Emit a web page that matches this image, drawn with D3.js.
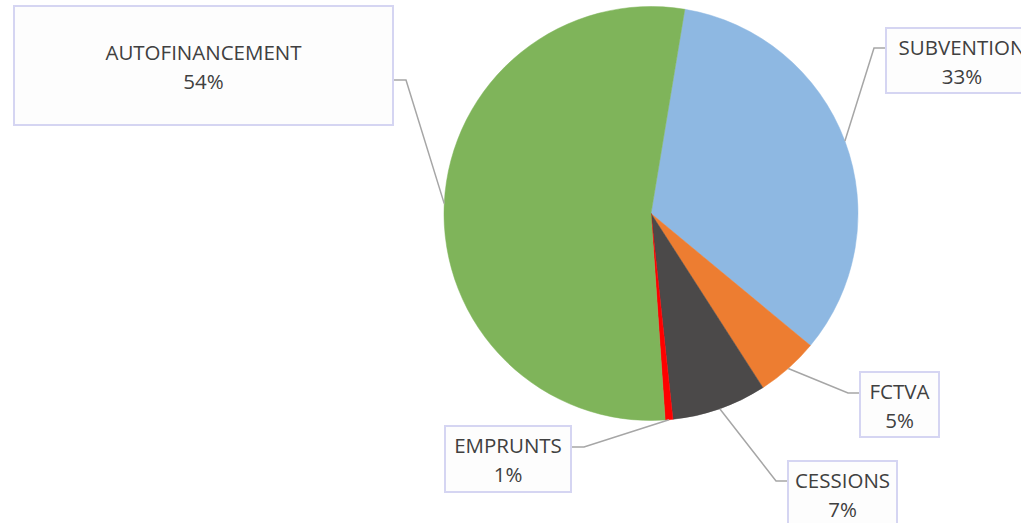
<!DOCTYPE html>
<html lang="fr">
<head>
  <meta charset="UTF-8">
  <title>Financement</title>
  <script src="https://d3js.org/d3.v7.min.js"></script>
  <style>
    body { margin: 0; background: #fff; }
    svg { display: block; }
  </style>
</head>
<body>
<div class="main"></div>
<script>

  // data (share of the total, %)
  const categories = ["SUBVENTION", "FCTVA", "CESSIONS", "EMPRUNTS", "AUTOFINANCEMENT"];
  const values = [33.4, 4.9, 7.4, 0.6, 53.7];
  const colors = ["#8EB8E2", "#ED7D31", "#4B4949", "#FF0000", "#7FB45A"];

  // label boxes placement (layout only)
  const labelLayout = {
    "SUBVENTION":      {x: 886, y: 28,  w: 152, h: 65,  ly: 48,  side: "right"},
    "FCTVA":           {x: 860, y: 372, w: 79,  h: 65,  ly: 393, side: "right"},
    "CESSIONS":        {x: 788, y: 461, w: 109, h: 65,  ly: 481, side: "right"},
    "EMPRUNTS":        {x: 445, y: 426, w: 126, h: 66,  ly: 447, side: "left"},
    "AUTOFINANCEMENT": {x: 14,  y: 6,   w: 379, h: 119, ly: 80,  side: "left"}
  };

  let width = 1021;
  let height = 523;
  let cx = 651, cy = 213.5, radius = 207;

  let data = categories.map(function (c, i) {
    return {key: c, value: values[i], color: colors[i]};
  });
  let total = d3.sum(values);

  let svg = d3.select(".main")
          .append("svg")
          .attr("width", width)
          .attr("height", height);

  let pie = d3.pie()
          .sort(null)
          .value(d => d.value)
          .startAngle(9.4 * Math.PI / 180)
          .endAngle(9.4 * Math.PI / 180 + 2 * Math.PI);

  let arc = d3.arc().innerRadius(0).outerRadius(radius);

  let arcs = pie(data);

  let pieG = svg.append("g").attr("transform", `translate(${cx},${cy})`);
  pieG.selectAll("path")
          .data(arcs)
          .join("path")
          .attr("d", arc)
          .attr("fill", d => d.data.color)
          .attr("stroke", d => d.data.color)
          .attr("stroke-width", 0.5);

  // leader lines
  let lines = svg.append("g");
  arcs.forEach(function (a) {
    let lay = labelLayout[a.data.key];
    let mid = (a.startAngle + a.endAngle) / 2;
    let px = cx + radius * Math.sin(mid);
    let py = cy - radius * Math.cos(mid);
    let edgeX = lay.side == "right" ? lay.x : lay.x + lay.w;
    let elbowX = lay.side == "right" ? edgeX - 12 : edgeX + 13;
    lines.append("polyline")
            .attr("points", `${px},${py} ${elbowX},${lay.ly} ${edgeX},${lay.ly}`)
            .attr("fill", "none")
            .attr("stroke", "#A6A6A6")
            .attr("stroke-width", 1.5);
  });

  // label boxes
  let labels = svg.append("g");
  arcs.forEach(function (a) {
    let lay = labelLayout[a.data.key];
    let g = labels.append("g");
    g.append("rect")
            .attr("x", lay.x)
            .attr("y", lay.y)
            .attr("width", lay.w)
            .attr("height", lay.h)
            .attr("fill", "#FDFDFD")
            .attr("stroke", "#D5D5F2")
            .attr("stroke-width", 2);
    let tx = lay.x + lay.w / 2;
    let midY = lay.y + lay.h / 2;
    let t = g.append("text")
            .attr("text-anchor", "middle")
            .style("font-family", "'Open Sans', sans-serif")
            .style("font-size", "20.5px")
            .style("fill", "#404040");
    t.append("tspan").attr("x", tx).attr("y", midY - 6).text(a.data.key);
    t.append("tspan").attr("x", tx).attr("y", midY + 23)
            .text(Math.round(a.data.value / total * 100) + "%");
  });

</script>
</body>
</html>
